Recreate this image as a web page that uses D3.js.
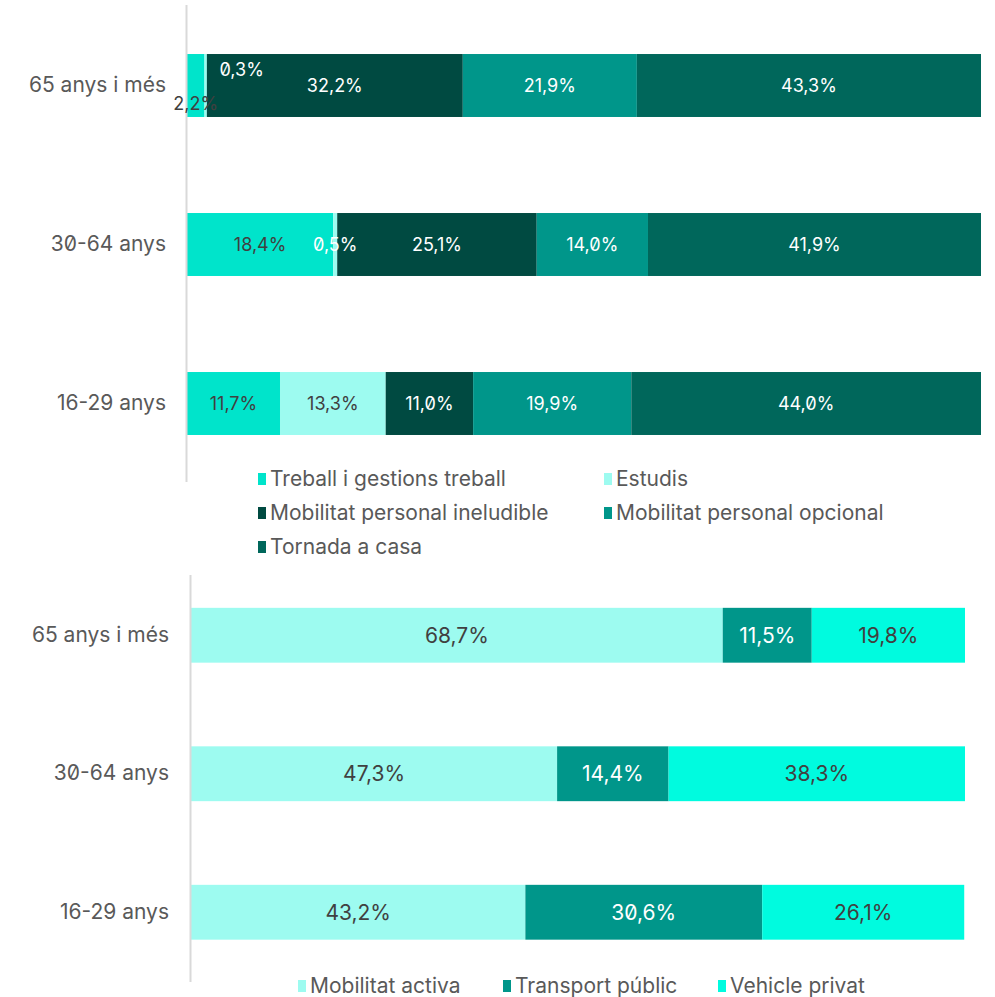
<!DOCTYPE html>
<html>
<head>
<meta charset="utf-8">
<script src="https://cdn.jsdelivr.net/npm/d3@7"></script>
<style>
  html, body { margin: 0; padding: 0; background: #fff; }
  svg { display: block; font-family: Inter, "Open Sans", sans-serif; font-feature-settings: "zero" 1; }
</style>
</head>
<body>
<svg id="chart" width="995" height="997"></svg>
<script>
// ---- DATA ----
const categories = ["65 anys i més", "30-64 anys", "16-29 anys"];

const motiuSeries = ["Treball i gestions treball", "Estudis", "Mobilitat personal ineludible", "Mobilitat personal opcional", "Tornada a casa"];
const treball    = [2.2, 18.4, 11.7];
const estudis    = [0.3, 0.5, 13.3];
const ineludible = [32.2, 25.1, 11.0];
const opcional   = [21.9, 14.0, 19.9];
const tornada    = [43.3, 41.9, 44.0];

const modeSeries = ["Mobilitat activa", "Transport públic", "Vehicle privat"];
const activa     = [68.7, 47.3, 43.2];
const transport  = [11.5, 14.4, 30.6];
const privat     = [19.8, 38.3, 26.1];

// ---- STYLE ----
const motiuColors = ["#00E4CB", "#9DFBF0", "#004A41", "#00968A", "#00675B"];
const motiuText   = ["#404040", "#404040", "#ffffff", "#ffffff", "#ffffff"];
const modeColors  = ["#9DFBF0", "#00968A", "#00FBDF"];
const modeText    = ["#404040", "#ffffff", "#404040"];

const svg = d3.select("#chart");
const fmt = v => d3.format(".1f")(v).replace(".", ",") + "%";

function drawChart(opts) {
  const { series, values, colors, textColors, x0, x1, yRange, axisTop, axisBottom, domainMax, labelX, labelOffsets, valueSize } = opts;
  const rows = categories.map((c, i) => {
    const r = { cat: c };
    series.forEach((s, j) => r[s] = values[j][i]);
    return r;
  });
  const stack = d3.stack().keys(series)(rows);
  const x = d3.scaleLinear().domain([0, domainMax]).range([x0, x1]);
  const y = d3.scaleBand().domain(categories).range(yRange).paddingInner(0.604).paddingOuter(0.302);

  const g = svg.append("g");
  const layers = g.selectAll("g.layer").data(stack).join("g")
    .attr("fill", (d, i) => colors[i]);
  layers.selectAll("rect").data(d => d).join("rect")
    .attr("x", d => x(d[0]))
    .attr("width", d => x(d[1]) - x(d[0]))
    .attr("y", d => y(d.data.cat))
    .attr("height", y.bandwidth());

  // axis line
  g.append("line")
    .attr("x1", x0 - 0.5).attr("x2", x0 - 0.5)
    .attr("y1", axisTop).attr("y2", axisBottom)
    .attr("stroke", "#d9d9d9").attr("stroke-width", 2);

  // category labels
  const yAxis = d3.axisLeft(y).tickSize(0).tickPadding(0);
  const ax = g.append("g").attr("transform", `translate(${labelX},0)`).call(yAxis);
  ax.select(".domain").remove();
  ax.selectAll("text").attr("font-size", 21).attr("fill", "#595959")
    .attr("font-family", "Inter, 'Open Sans', sans-serif");

  // value labels
  stack.forEach((layer, i) => {
    layer.forEach(d => {
      const key = layer.key + "|" + d.data.cat;
      const off = labelOffsets[key] || [0, 0];
      g.append("text")
        .attr("x", (x(d[0]) + x(d[1])) / 2 + off[0])
        .attr("y", y(d.data.cat) + y.bandwidth() / 2 + off[1])
        .attr("dy", "0.35em")
        .attr("text-anchor", "middle")
        .attr("font-size", valueSize)
        .attr("fill", off[2] || textColors[i])
        .text(fmt(d[1] - d[0]));
    });
  });
  return { x, y };
}

// Top chart: trip purpose
drawChart({
  series: motiuSeries,
  values: [treball, estudis, ineludible, opcional, tornada],
  colors: motiuColors, textColors: motiuText,
  x0: 187, x1: 981, yRange: [6, 483], axisTop: 5, axisBottom: 482,
  domainMax: 99.9, labelX: 166, valueSize: 18,
  labelOffsets: {
    "Treball i gestions treball|65 anys i més": [0, 18],
    "Estudis|65 anys i més": [36, -16, "#ffffff"],
    "Estudis|30-64 anys": [0, 0, "#ffffff"]
  }
});

// Bottom chart: transport mode
drawChart({
  series: modeSeries,
  values: [activa, transport, privat],
  colors: modeColors, textColors: modeText,
  x0: 191, x1: 965, yRange: [566, 981.5], axisTop: 575, axisBottom: 982,
  domainMax: 100, labelX: 169, valueSize: 21,
  labelOffsets: {}
});

// Legends
function legend(items, colors, positions) {
  const lg = svg.append("g");
  items.forEach((t, i) => {
    const p = positions[i];
    lg.append("rect").attr("x", p[0]).attr("y", p[1] - 6).attr("width", 8).attr("height", 12).attr("fill", colors[i]);
    lg.append("text").attr("x", p[0] + 12).attr("y", p[1]).attr("dy", "0.35em")
      .attr("font-size", 21).attr("fill", "#595959")
      .text(t);
  });
}
legend(motiuSeries, motiuColors, [[258, 479], [604, 479], [258, 513], [604, 513], [258, 547]]);
legend(modeSeries, modeColors, [[298, 986], [503, 986], [718, 986]]);
</script>
</body>
</html>
